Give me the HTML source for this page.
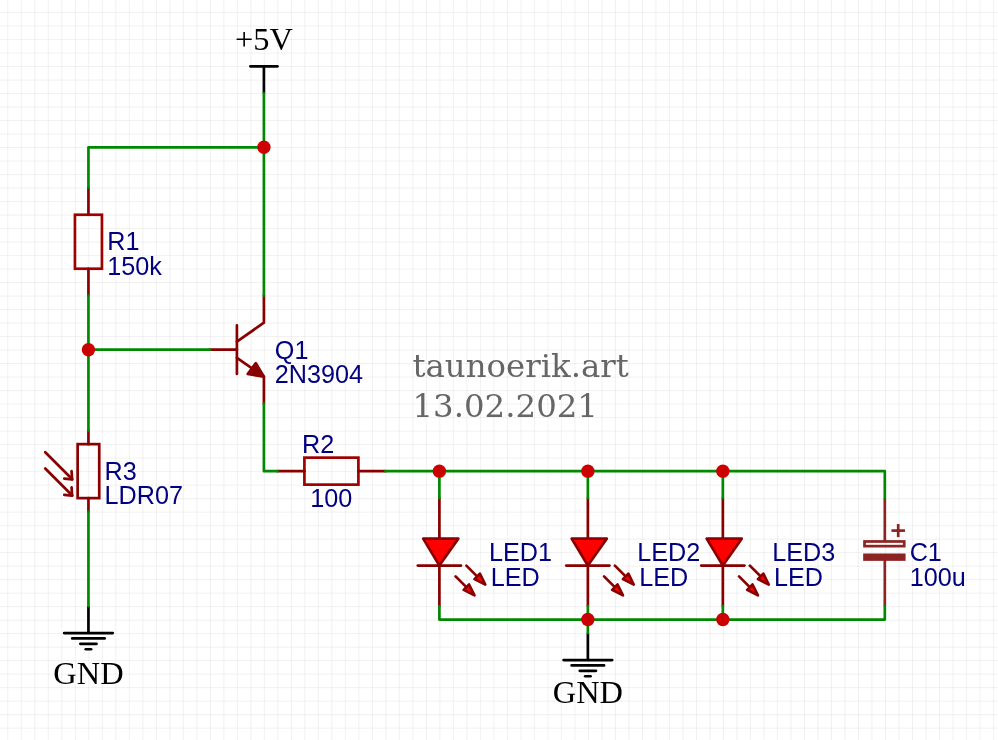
<!DOCTYPE html>
<html lang="en">
<head>
<meta charset="utf-8">
<title>LDR night light schematic</title>
<style>
html,body{margin:0;padding:0;background:#fff;}
body{width:998px;height:740px;overflow:hidden;}
svg{display:block;will-change:transform;}
.sans{font-family:"Liberation Sans",sans-serif;}
.serif{font-family:"Liberation Serif",serif;}
.dserif{font-family:"DejaVu Serif",serif;}
</style>
</head>
<body>
<svg width="998" height="740" viewBox="0 0 998 740">
<rect x="0" y="0" width="998" height="740" fill="#ffffff"/>
<path d="M7.80 0V740M21.30 0V740M34.81 0V740M48.31 0V740M61.81 0V740M75.32 0V740M88.82 0V740M102.32 0V740M115.83 0V740M129.33 0V740M142.83 0V740M156.33 0V740M169.84 0V740M183.34 0V740M196.84 0V740M210.35 0V740M223.85 0V740M237.35 0V740M250.86 0V740M264.36 0V740M277.86 0V740M291.37 0V740M304.87 0V740M318.37 0V740M331.87 0V740M345.38 0V740M358.88 0V740M372.38 0V740M385.89 0V740M399.39 0V740M412.89 0V740M426.39 0V740M439.90 0V740M453.40 0V740M466.90 0V740M480.41 0V740M493.91 0V740M507.41 0V740M520.92 0V740M534.42 0V740M547.92 0V740M561.42 0V740M574.93 0V740M588.43 0V740M601.93 0V740M615.44 0V740M628.94 0V740M642.44 0V740M655.95 0V740M669.45 0V740M682.95 0V740M696.45 0V740M709.96 0V740M723.46 0V740M736.96 0V740M750.47 0V740M763.97 0V740M777.47 0V740M790.98 0V740M804.48 0V740M817.98 0V740M831.48 0V740M844.99 0V740M858.49 0V740M871.99 0V740M885.50 0V740M899.00 0V740M912.50 0V740M926.01 0V740M939.51 0V740M953.01 0V740M966.52 0V740M980.02 0V740M993.52 0V740M0 -0.98H998M0 12.52H998M0 26.02H998M0 39.53H998M0 53.03H998M0 66.53H998M0 80.04H998M0 93.54H998M0 107.04H998M0 120.54H998M0 134.05H998M0 147.55H998M0 161.05H998M0 174.56H998M0 188.06H998M0 201.56H998M0 215.06H998M0 228.57H998M0 242.07H998M0 255.57H998M0 269.08H998M0 282.58H998M0 296.08H998M0 309.59H998M0 323.09H998M0 336.59H998M0 350.10H998M0 363.60H998M0 377.10H998M0 390.60H998M0 404.11H998M0 417.61H998M0 431.11H998M0 444.62H998M0 458.12H998M0 471.62H998M0 485.12H998M0 498.63H998M0 512.13H998M0 525.63H998M0 539.14H998M0 552.64H998M0 566.14H998M0 579.65H998M0 593.15H998M0 606.65H998M0 620.15H998M0 633.66H998M0 647.16H998M0 660.66H998M0 674.17H998M0 687.67H998M0 701.17H998M0 714.68H998M0 728.18H998" fill="none" stroke="#cccccc" stroke-width="0.27"/>
<g id="parts">
<path d="M263.91 66.32 L263.91 93.30" fill="none" stroke="#000" stroke-width="2.7" stroke-linecap="butt" stroke-linejoin="round"/>
<path d="M250.42 66.32 L277.41 66.32" fill="none" stroke="#000" stroke-width="2.7" stroke-linecap="round" stroke-linejoin="round"/>
<rect x="74.94" y="214.75" width="27.00" height="53.98" fill="none" stroke="#A00000" stroke-width="2.7"/>
<path d="M88.44 187.76 L88.44 214.75" fill="none" stroke="#880000" stroke-width="2.7" stroke-linecap="round" stroke-linejoin="round"/>
<path d="M88.44 268.73 L88.44 295.71" fill="none" stroke="#880000" stroke-width="2.7" stroke-linecap="round" stroke-linejoin="round"/>
<rect x="77.64" y="444.15" width="21.60" height="53.97" fill="none" stroke="#880000" stroke-width="2.7"/>
<path d="M88.44 430.65 L88.44 444.15" fill="none" stroke="#880000" stroke-width="2.7" stroke-linecap="round" stroke-linejoin="round"/>
<path d="M88.44 498.12 L88.44 511.62" fill="none" stroke="#880000" stroke-width="2.7" stroke-linecap="round" stroke-linejoin="round"/>
<rect x="304.41" y="457.64" width="53.99" height="26.99" fill="none" stroke="#A00000" stroke-width="2.7"/>
<path d="M277.41 471.14 L304.41 471.14" fill="none" stroke="#880000" stroke-width="2.7" stroke-linecap="round" stroke-linejoin="round"/>
<path d="M358.40 471.14 L385.40 471.14" fill="none" stroke="#880000" stroke-width="2.7" stroke-linecap="round" stroke-linejoin="round"/>
<path d="M45.25 452.24 L72.24 479.23" fill="none" stroke="#880000" stroke-width="2.7" stroke-linecap="round" stroke-linejoin="round"/>
<path d="M64.28 478.69 L72.11 479.37 L71.57 471.14" fill="none" stroke="#880000" stroke-width="2.7" stroke-linecap="round" stroke-linejoin="round"/>
<path d="M45.25 468.44 L72.24 495.43" fill="none" stroke="#880000" stroke-width="2.7" stroke-linecap="round" stroke-linejoin="round"/>
<path d="M64.28 494.89 L72.11 495.56 L71.57 487.33" fill="none" stroke="#880000" stroke-width="2.7" stroke-linecap="round" stroke-linejoin="round"/>
<path d="M209.92 349.69 L236.92 349.69" fill="none" stroke="#880000" stroke-width="2.7" stroke-linecap="round" stroke-linejoin="round"/>
<path d="M236.92 325.40 L236.92 373.98" fill="none" stroke="#880000" stroke-width="2.7" stroke-linecap="round" stroke-linejoin="round"/>
<path d="M236.92 341.59 L263.91 322.70 L263.91 295.71" fill="none" stroke="#880000" stroke-width="2.7" stroke-linecap="round" stroke-linejoin="round"/>
<path d="M236.92 357.79 L263.91 376.68 L263.91 403.67" fill="none" stroke="#880000" stroke-width="2.7" stroke-linecap="round" stroke-linejoin="round"/>
<path d="M255.82 363.18 L247.72 373.98 L263.91 376.68 Z" fill="#880000" stroke="#880000" stroke-width="2.7" stroke-linecap="round" stroke-linejoin="round"/>
<path d="M439.39 498.12 L439.39 538.61" fill="none" stroke="#880000" stroke-width="2.7" stroke-linecap="round" stroke-linejoin="round"/>
<path d="M439.39 565.59 L439.39 606.08" fill="none" stroke="#880000" stroke-width="2.7" stroke-linecap="round" stroke-linejoin="round"/>
<path d="M423.19 538.61 L458.29 538.61 L439.39 565.59 Z" fill="#FF0000" stroke="#880000" stroke-width="2.7" stroke-linecap="round" stroke-linejoin="round"/>
<path d="M417.79 565.59 L460.98 565.59" fill="none" stroke="#880000" stroke-width="2.7" stroke-linecap="round" stroke-linejoin="round"/>
<path d="M466.38 565.59 L479.88 579.09" fill="none" stroke="#880000" stroke-width="2.7" stroke-linecap="round" stroke-linejoin="round"/>
<path d="M485.28 584.49 L479.88 573.69 L474.48 579.09 Z" fill="#FF0000" stroke="#880000" stroke-width="2.7" stroke-linecap="round" stroke-linejoin="round"/>
<path d="M455.59 576.39 L469.08 589.88" fill="none" stroke="#880000" stroke-width="2.7" stroke-linecap="round" stroke-linejoin="round"/>
<path d="M474.48 595.28 L469.08 584.49 L463.68 589.88 Z" fill="#FF0000" stroke="#880000" stroke-width="2.7" stroke-linecap="round" stroke-linejoin="round"/>
<path d="M587.87 498.12 L587.87 538.61" fill="none" stroke="#880000" stroke-width="2.7" stroke-linecap="round" stroke-linejoin="round"/>
<path d="M587.87 565.59 L587.87 606.08" fill="none" stroke="#880000" stroke-width="2.7" stroke-linecap="round" stroke-linejoin="round"/>
<path d="M571.67 538.61 L606.76 538.61 L587.87 565.59 Z" fill="#FF0000" stroke="#880000" stroke-width="2.7" stroke-linecap="round" stroke-linejoin="round"/>
<path d="M566.27 565.59 L609.46 565.59" fill="none" stroke="#880000" stroke-width="2.7" stroke-linecap="round" stroke-linejoin="round"/>
<path d="M614.86 565.59 L628.36 579.09" fill="none" stroke="#880000" stroke-width="2.7" stroke-linecap="round" stroke-linejoin="round"/>
<path d="M633.76 584.49 L628.36 573.69 L622.96 579.09 Z" fill="#FF0000" stroke="#880000" stroke-width="2.7" stroke-linecap="round" stroke-linejoin="round"/>
<path d="M604.06 576.39 L617.56 589.88" fill="none" stroke="#880000" stroke-width="2.7" stroke-linecap="round" stroke-linejoin="round"/>
<path d="M622.96 595.28 L617.56 584.49 L612.16 589.88 Z" fill="#FF0000" stroke="#880000" stroke-width="2.7" stroke-linecap="round" stroke-linejoin="round"/>
<path d="M722.85 498.12 L722.85 538.61" fill="none" stroke="#880000" stroke-width="2.7" stroke-linecap="round" stroke-linejoin="round"/>
<path d="M722.85 565.59 L722.85 606.08" fill="none" stroke="#880000" stroke-width="2.7" stroke-linecap="round" stroke-linejoin="round"/>
<path d="M706.65 538.61 L741.74 538.61 L722.85 565.59 Z" fill="#FF0000" stroke="#880000" stroke-width="2.7" stroke-linecap="round" stroke-linejoin="round"/>
<path d="M701.25 565.59 L744.44 565.59" fill="none" stroke="#880000" stroke-width="2.7" stroke-linecap="round" stroke-linejoin="round"/>
<path d="M749.84 565.59 L763.34 579.09" fill="none" stroke="#880000" stroke-width="2.7" stroke-linecap="round" stroke-linejoin="round"/>
<path d="M768.74 584.49 L763.34 573.69 L757.94 579.09 Z" fill="#FF0000" stroke="#880000" stroke-width="2.7" stroke-linecap="round" stroke-linejoin="round"/>
<path d="M739.04 576.39 L752.54 589.88" fill="none" stroke="#880000" stroke-width="2.7" stroke-linecap="round" stroke-linejoin="round"/>
<path d="M757.94 595.28 L752.54 584.49 L747.14 589.88 Z" fill="#FF0000" stroke="#880000" stroke-width="2.7" stroke-linecap="round" stroke-linejoin="round"/>
<path d="M884.82 498.12 L884.82 541.50" fill="none" stroke="#8D2323" stroke-width="2.7" stroke-linecap="butt" stroke-linejoin="round"/>
<path d="M884.82 559.50 L884.82 606.08" fill="none" stroke="#8D2323" stroke-width="2.7" stroke-linecap="butt" stroke-linejoin="round"/>
<rect x="864.52" y="541.48" width="39.7" height="4.66" fill="none" stroke="#8D2323" stroke-width="2.7"/>
<rect x="864.52" y="554.85" width="39.7" height="4.66" fill="#8D2323" stroke="#8D2323" stroke-width="2.7"/>
<path d="M891.45 530.60 L904.95 530.60" fill="none" stroke="#8D2323" stroke-width="2.7" stroke-linecap="butt" stroke-linejoin="round"/>
<path d="M898.20 524.05 L898.20 537.10" fill="none" stroke="#8D2323" stroke-width="2.7" stroke-linecap="butt" stroke-linejoin="round"/>
<path d="M88.44 606.08 L88.44 633.06" fill="none" stroke="#000" stroke-width="2.7" stroke-linecap="butt" stroke-linejoin="round"/>
<path d="M64.14 633.06 L112.74 633.06" fill="none" stroke="#000" stroke-width="2.7" stroke-linecap="round" stroke-linejoin="round"/>
<path d="M72.24 638.46 L104.64 638.46" fill="none" stroke="#000" stroke-width="2.7" stroke-linecap="round" stroke-linejoin="round"/>
<path d="M80.34 643.86 L96.54 643.86" fill="none" stroke="#000" stroke-width="2.7" stroke-linecap="round" stroke-linejoin="round"/>
<path d="M85.74 649.26 L91.14 649.26" fill="none" stroke="#000" stroke-width="2.7" stroke-linecap="round" stroke-linejoin="round"/>
<path d="M587.87 633.06 L587.87 660.05" fill="none" stroke="#000" stroke-width="2.7" stroke-linecap="butt" stroke-linejoin="round"/>
<path d="M563.57 660.05 L612.16 660.05" fill="none" stroke="#000" stroke-width="2.7" stroke-linecap="round" stroke-linejoin="round"/>
<path d="M571.67 665.45 L604.06 665.45" fill="none" stroke="#000" stroke-width="2.7" stroke-linecap="round" stroke-linejoin="round"/>
<path d="M579.77 670.85 L595.96 670.85" fill="none" stroke="#000" stroke-width="2.7" stroke-linecap="round" stroke-linejoin="round"/>
<path d="M585.17 676.24 L590.57 676.24" fill="none" stroke="#000" stroke-width="2.7" stroke-linecap="round" stroke-linejoin="round"/>
</g>
<g id="wires">
<path d="M263.91 93.30 L263.91 295.71" fill="none" stroke="#008800" stroke-width="2.7" stroke-linecap="round" stroke-linejoin="round"/>
<path d="M263.91 147.28 L88.44 147.28 L88.44 187.76" fill="none" stroke="#008800" stroke-width="2.7" stroke-linecap="round" stroke-linejoin="round"/>
<path d="M88.44 295.71 L88.44 430.65" fill="none" stroke="#008800" stroke-width="2.7" stroke-linecap="round" stroke-linejoin="round"/>
<path d="M88.44 349.69 L209.92 349.69" fill="none" stroke="#008800" stroke-width="2.7" stroke-linecap="round" stroke-linejoin="round"/>
<path d="M88.44 511.62 L88.44 606.08" fill="none" stroke="#008800" stroke-width="2.7" stroke-linecap="round" stroke-linejoin="round"/>
<path d="M263.91 403.67 L263.91 471.14 L277.41 471.14" fill="none" stroke="#008800" stroke-width="2.7" stroke-linecap="round" stroke-linejoin="round"/>
<path d="M385.40 471.14 L884.82 471.14 L884.82 498.12" fill="none" stroke="#008800" stroke-width="2.7" stroke-linecap="round" stroke-linejoin="round"/>
<path d="M439.39 471.14 L439.39 498.12" fill="none" stroke="#008800" stroke-width="2.7" stroke-linecap="round" stroke-linejoin="round"/>
<path d="M587.87 471.14 L587.87 498.12" fill="none" stroke="#008800" stroke-width="2.7" stroke-linecap="round" stroke-linejoin="round"/>
<path d="M722.85 471.14 L722.85 498.12" fill="none" stroke="#008800" stroke-width="2.7" stroke-linecap="round" stroke-linejoin="round"/>
<path d="M439.39 606.08 L439.39 619.57 L884.82 619.57 L884.82 606.08" fill="none" stroke="#008800" stroke-width="2.7" stroke-linecap="round" stroke-linejoin="round"/>
<path d="M587.87 606.08 L587.87 633.06" fill="none" stroke="#008800" stroke-width="2.7" stroke-linecap="round" stroke-linejoin="round"/>
<path d="M722.85 606.08 L722.85 619.57" fill="none" stroke="#008800" stroke-width="2.7" stroke-linecap="round" stroke-linejoin="round"/>
<circle cx="263.91" cy="147.28" r="6.7" fill="#CC0000"/>
<circle cx="88.44" cy="349.69" r="6.7" fill="#CC0000"/>
<circle cx="439.39" cy="471.14" r="6.7" fill="#CC0000"/>
<circle cx="587.87" cy="471.14" r="6.7" fill="#CC0000"/>
<circle cx="722.85" cy="471.14" r="6.7" fill="#CC0000"/>
<circle cx="587.87" cy="619.57" r="6.7" fill="#CC0000"/>
<circle cx="722.85" cy="619.57" r="6.7" fill="#CC0000"/>
</g>
<g id="labels">
<text x="107.30" y="250.05" font-size="25.2" fill="#000080" class="sans" text-anchor="start">R1</text>
<text x="107.30" y="274.90" font-size="25.2" fill="#000080" class="sans" text-anchor="start">150k</text>
<text x="274.80" y="358.50" font-size="25.2" fill="#000080" class="sans" text-anchor="start">Q1</text>
<text x="274.80" y="382.50" font-size="25.2" fill="#000080" class="sans" text-anchor="start">2N3904</text>
<text x="104.60" y="479.75" font-size="25.2" fill="#000080" class="sans" text-anchor="start">R3</text>
<text x="104.50" y="503.75" font-size="25.2" fill="#000080" class="sans" text-anchor="start">LDR07</text>
<text x="302.00" y="452.70" font-size="25.2" fill="#000080" class="sans" text-anchor="start">R2</text>
<text x="310.20" y="507.00" font-size="25.2" fill="#000080" class="sans" text-anchor="start">100</text>
<text x="489.00" y="561.40" font-size="25.2" fill="#000080" class="sans" text-anchor="start">LED1</text>
<text x="490.80" y="586.30" font-size="25.2" fill="#000080" class="sans" text-anchor="start">LED</text>
<text x="637.15" y="561.40" font-size="25.2" fill="#000080" class="sans" text-anchor="start">LED2</text>
<text x="639.15" y="586.30" font-size="25.2" fill="#000080" class="sans" text-anchor="start">LED</text>
<text x="772.30" y="561.40" font-size="25.2" fill="#000080" class="sans" text-anchor="start">LED3</text>
<text x="774.05" y="586.30" font-size="25.2" fill="#000080" class="sans" text-anchor="start">LED</text>
<text x="909.65" y="560.70" font-size="25.2" fill="#000080" class="sans" text-anchor="start">C1</text>
<text x="909.85" y="586.05" font-size="25.2" fill="#000080" class="sans" text-anchor="start">100u</text>
<text x="263.91" y="50.40" font-size="32.4" fill="#000" class="serif" text-anchor="middle">+5V</text>
<text x="88.44" y="683.90" font-size="32.4" fill="#000" class="serif" text-anchor="middle">GND</text>
<text x="587.87" y="703.30" font-size="32.4" fill="#000" class="serif" text-anchor="middle">GND</text>
<text x="412.50" y="377.20" font-size="32.4" fill="#666666" class="dserif" text-anchor="start">taunoerik.art</text>
<text x="412.50" y="417.30" font-size="32.4" fill="#666666" class="dserif" text-anchor="start">13.02.2021</text>
</g>
</svg>
</body>
</html>
